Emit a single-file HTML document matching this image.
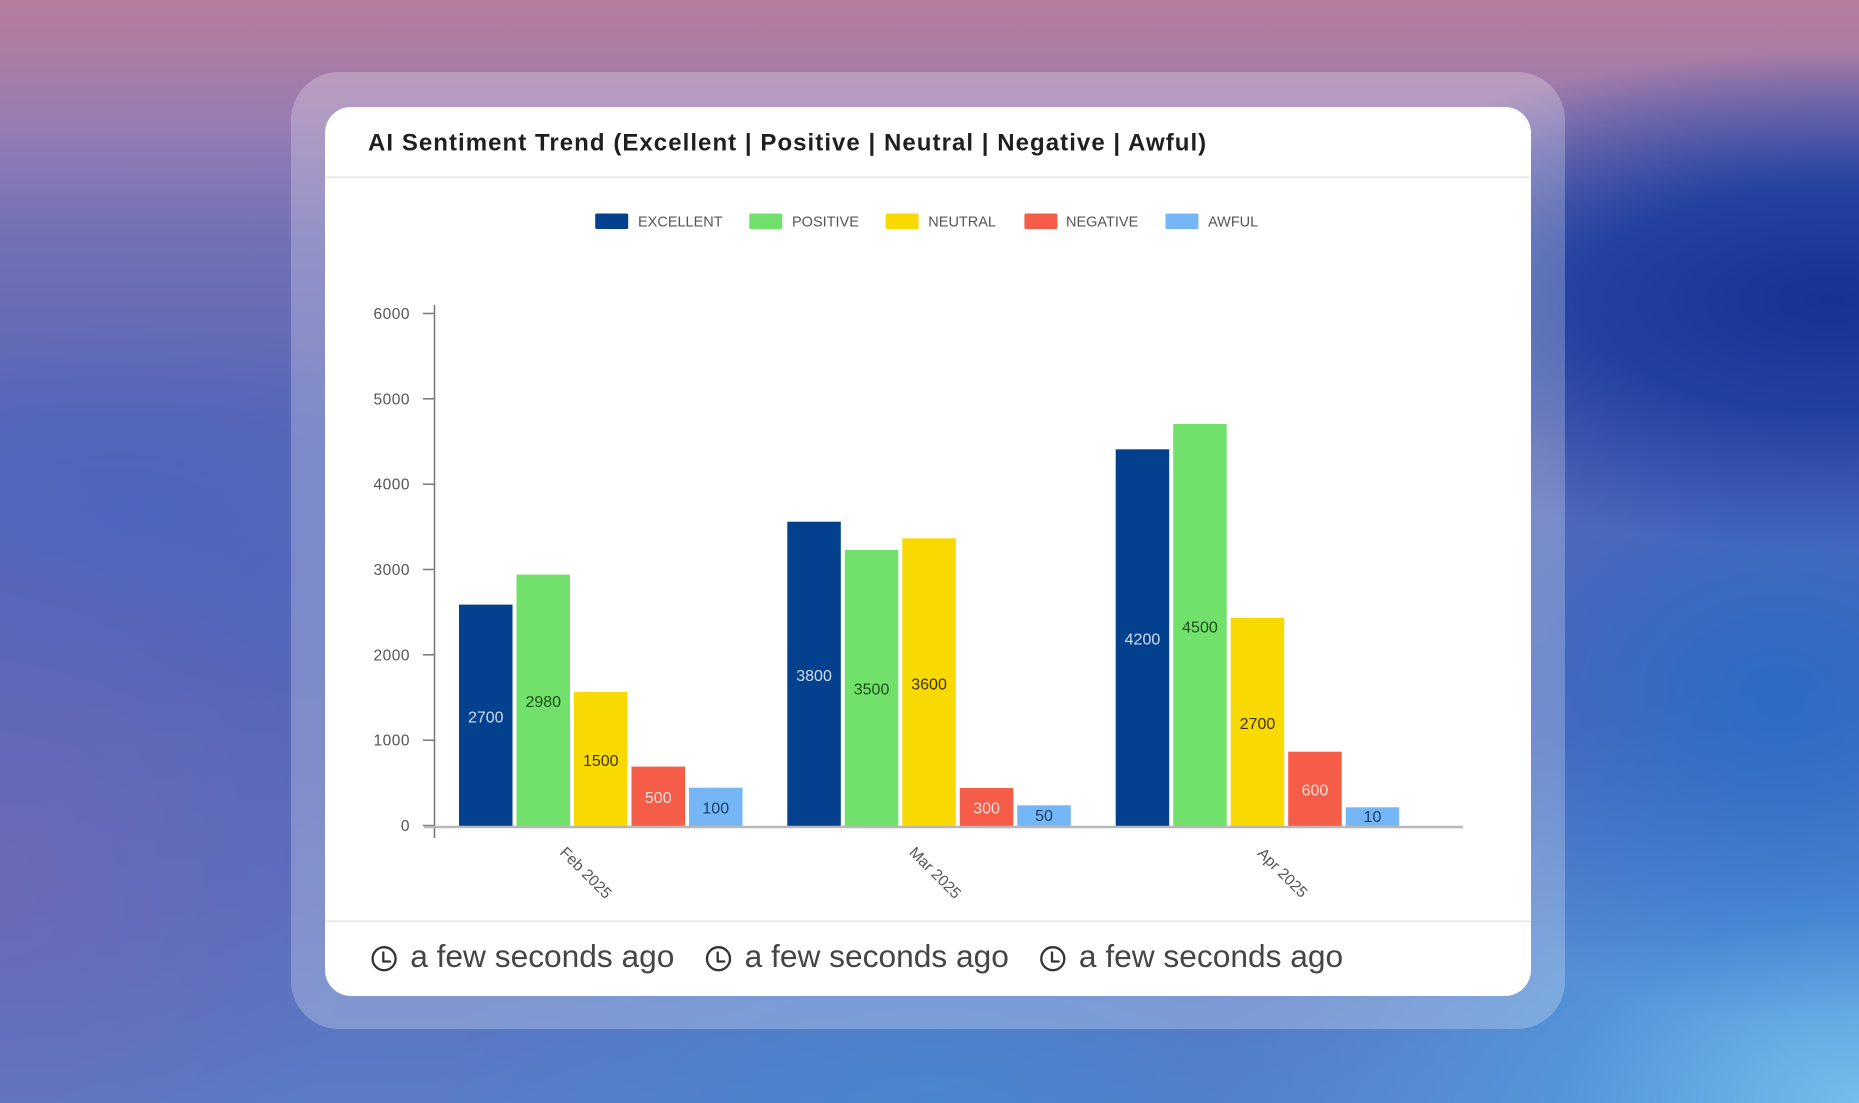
<!DOCTYPE html>
<html>
<head>
<meta charset="utf-8">
<style>
  html,body{margin:0;padding:0;}
  body{width:1859px;height:1103px;overflow:hidden;position:relative;font-family:"Liberation Sans",sans-serif;}
  .bg{position:absolute;left:0;top:0;width:1859px;height:1103px;
    background:
      radial-gradient(ellipse 560px 250px at 1830px 300px, rgba(22,50,148,1) 0%, rgba(26,60,158,0.9) 45%, rgba(30,80,170,0) 100%),
      radial-gradient(ellipse 400px 320px at 1780px 700px, rgba(38,108,200,0.9) 0%, rgba(40,115,205,0) 100%),
      radial-gradient(ellipse 650px 420px at 1859px 1103px, rgba(115,190,236,1) 0%, rgba(80,160,225,0.7) 45%, rgba(70,140,215,0) 100%),
      radial-gradient(ellipse 500px 260px at 930px 1103px, rgba(70,135,210,0.8) 0%, rgba(70,135,210,0) 100%),
      radial-gradient(ellipse 360px 420px at 0px 880px, rgba(112,104,182,0.75) 0%, rgba(112,104,182,0) 100%),
      radial-gradient(ellipse 380px 200px at 120px 520px, rgba(70,100,195,0.6) 0%, rgba(70,100,195,0) 100%),
      linear-gradient(to bottom, #b57d9c 0%, #ad7ca2 4%, #977cb2 11%, #7170b6 22%, #5a67b6 38%, #5566b7 60%, #5a6fbe 82%, #5a7cc6 100%);
  }
  .panel{position:absolute;left:290.5px;top:72px;width:1274.5px;height:957px;border-radius:48px;
    background:rgba(255,255,255,0.24);}
  .card{position:absolute;left:325px;top:106.5px;width:1205.7px;height:889.5px;border-radius:26px;background:#fff;}
  svg.main{position:absolute;left:0;top:0;}
</style>
</head>
<body>
<div class="bg"></div>
<div class="panel"></div>
<div class="card"></div>
<svg class="main" width="1859" height="1103" viewBox="0 0 1859 1103" xmlns="http://www.w3.org/2000/svg">
  <!-- title -->
  <text x="368" y="150.7" font-family="Liberation Sans, sans-serif" font-weight="bold" font-size="24" letter-spacing="1.05" fill="#1f1f1f">AI Sentiment Trend (Excellent | Positive | Neutral | Negative | Awful)</text>
  <line x1="325" y1="177.3" x2="1530.7" y2="177.3" stroke="#ebebeb" stroke-width="2"/>

  <!-- legend -->
  <g font-family="Liberation Sans, sans-serif" font-size="14.5" fill="#555">
    <rect x="595.2" y="213.5" width="33" height="15.5" rx="1.5" fill="#03418e"/>
    <text x="638" y="226.3">EXCELLENT</text>
    <rect x="749.3" y="213.5" width="33" height="15.5" rx="1.5" fill="#72e16b"/>
    <text x="792" y="226.3">POSITIVE</text>
    <rect x="885.6" y="213.5" width="33" height="15.5" rx="1.5" fill="#f8d901"/>
    <text x="928.3" y="226.3">NEUTRAL</text>
    <rect x="1024.4" y="213.5" width="33" height="15.5" rx="1.5" fill="#f65d48"/>
    <text x="1066" y="226.3">NEGATIVE</text>
    <rect x="1165.5" y="213.5" width="33" height="15.5" rx="1.5" fill="#75b6f6"/>
    <text x="1208" y="226.3">AWFUL</text>
  </g>

  <!-- y axis ticks & labels -->
  <g stroke="#777" stroke-width="1.5">
    <line x1="434.5" y1="305" x2="434.5" y2="838"/>
    <line x1="423" y1="313.5" x2="434.5" y2="313.5"/>
    <line x1="423" y1="398.8" x2="434.5" y2="398.8"/>
    <line x1="423" y1="484.2" x2="434.5" y2="484.2"/>
    <line x1="423" y1="569.5" x2="434.5" y2="569.5"/>
    <line x1="423" y1="654.8" x2="434.5" y2="654.8"/>
    <line x1="423" y1="740.2" x2="434.5" y2="740.2"/>
    <line x1="423" y1="825.5" x2="434.5" y2="825.5"/>
  </g>
  <g font-family="Liberation Sans, sans-serif" font-size="15.5" fill="#555" text-anchor="end" letter-spacing="0.5">
    <text x="410" y="319">6000</text>
    <text x="410" y="404.3">5000</text>
    <text x="410" y="489.7">4000</text>
    <text x="410" y="575">3000</text>
    <text x="410" y="660.3">2000</text>
    <text x="410" y="745.7">1000</text>
    <text x="410" y="831">0</text>
  </g>

  <!-- bars -->
  <g>
    <rect x="459" y="604.6" width="53.5" height="221.4" fill="#03418e"/>
    <rect x="516.5" y="574.6" width="53.5" height="251.4" fill="#72e16b"/>
    <rect x="574" y="692" width="53.5" height="134" fill="#f8d901"/>
    <rect x="631.5" y="766.6" width="53.5" height="59.4" fill="#f65d48"/>
    <rect x="689" y="787.7" width="53.5" height="38.3" fill="#75b6f6"/>

    <rect x="787.3" y="521.7" width="53.5" height="304.3" fill="#03418e"/>
    <rect x="844.8" y="550" width="53.5" height="276" fill="#72e16b"/>
    <rect x="902.3" y="538.3" width="53.5" height="287.7" fill="#f8d901"/>
    <rect x="959.8" y="788" width="53.5" height="38" fill="#f65d48"/>
    <rect x="1017.3" y="805.3" width="53.5" height="20.7" fill="#75b6f6"/>

    <rect x="1115.7" y="449.3" width="53.5" height="376.7" fill="#03418e"/>
    <rect x="1173.2" y="424" width="53.5" height="402" fill="#72e16b"/>
    <rect x="1230.7" y="617.7" width="53.5" height="208.3" fill="#f8d901"/>
    <rect x="1288.2" y="751.7" width="53.5" height="74.3" fill="#f65d48"/>
    <rect x="1345.7" y="807.3" width="53.5" height="18.7" fill="#75b6f6"/>
  </g>

  <!-- x axis -->
  <line x1="424" y1="827" x2="1463" y2="827" stroke="#b8b8b8" stroke-width="2.5"/>

  <!-- bar value labels -->
  <g font-family="Liberation Sans, sans-serif" font-size="16" text-anchor="middle">
    <text x="485.75" y="722.5" fill="#d6deef">2700</text>
    <text x="543.25" y="707.2" fill="#1b4d17">2980</text>
    <text x="600.75" y="766.2" fill="#3b3300">1500</text>
    <text x="658.25" y="803.2" fill="#fde0da">500</text>
    <text x="715.75" y="813.7" fill="#1c3d66">100</text>

    <text x="814.05" y="681" fill="#d6deef">3800</text>
    <text x="871.55" y="694.4" fill="#1b4d17">3500</text>
    <text x="929.05" y="689.7" fill="#3b3300">3600</text>
    <text x="986.55" y="813.7" fill="#fde0da">300</text>
    <text x="1044.05" y="821.2" fill="#1c3d66">50</text>

    <text x="1142.45" y="644.7" fill="#d6deef">4200</text>
    <text x="1199.95" y="632.4" fill="#1b4d17">4500</text>
    <text x="1257.45" y="729" fill="#3b3300">2700</text>
    <text x="1314.95" y="795.7" fill="#fde0da">600</text>
    <text x="1372.45" y="822.2" fill="#1c3d66">10</text>
  </g>

  <!-- x labels -->
  <g font-family="Liberation Sans, sans-serif" font-size="15.5" fill="#555" text-anchor="middle">
    <text x="586" y="878" transform="rotate(45 586 872.6)">Feb 2025</text>
    <text x="935.4" y="878" transform="rotate(45 935.4 872.6)">Mar 2025</text>
    <text x="1282.8" y="878" transform="rotate(45 1282.8 872.6)">Apr 2025</text>
  </g>

  <!-- footer -->
  <line x1="325" y1="921.3" x2="1530.7" y2="921.3" stroke="#ececec" stroke-width="2"/>
  <g fill="none" stroke="#333" stroke-width="2.3" stroke-linecap="round" stroke-linejoin="round">
    <circle cx="384.1" cy="958.7" r="11.5"/>
    <polyline points="383.3,952.5 383.3,961.5 390,961.5"/>
    <circle cx="718.5" cy="958.7" r="11.5"/>
    <polyline points="717.7,952.5 717.7,961.5 724.4,961.5"/>
    <circle cx="1052.8" cy="958.7" r="11.5"/>
    <polyline points="1052,952.5 1052,961.5 1058.7,961.5"/>
  </g>
  <g font-family="Liberation Sans, sans-serif" font-size="31.7" fill="#454545">
    <text x="410.2" y="967">a few seconds ago</text>
    <text x="744.6" y="967">a few seconds ago</text>
    <text x="1078.9" y="967">a few seconds ago</text>
  </g>
</svg>
</body>
</html>
